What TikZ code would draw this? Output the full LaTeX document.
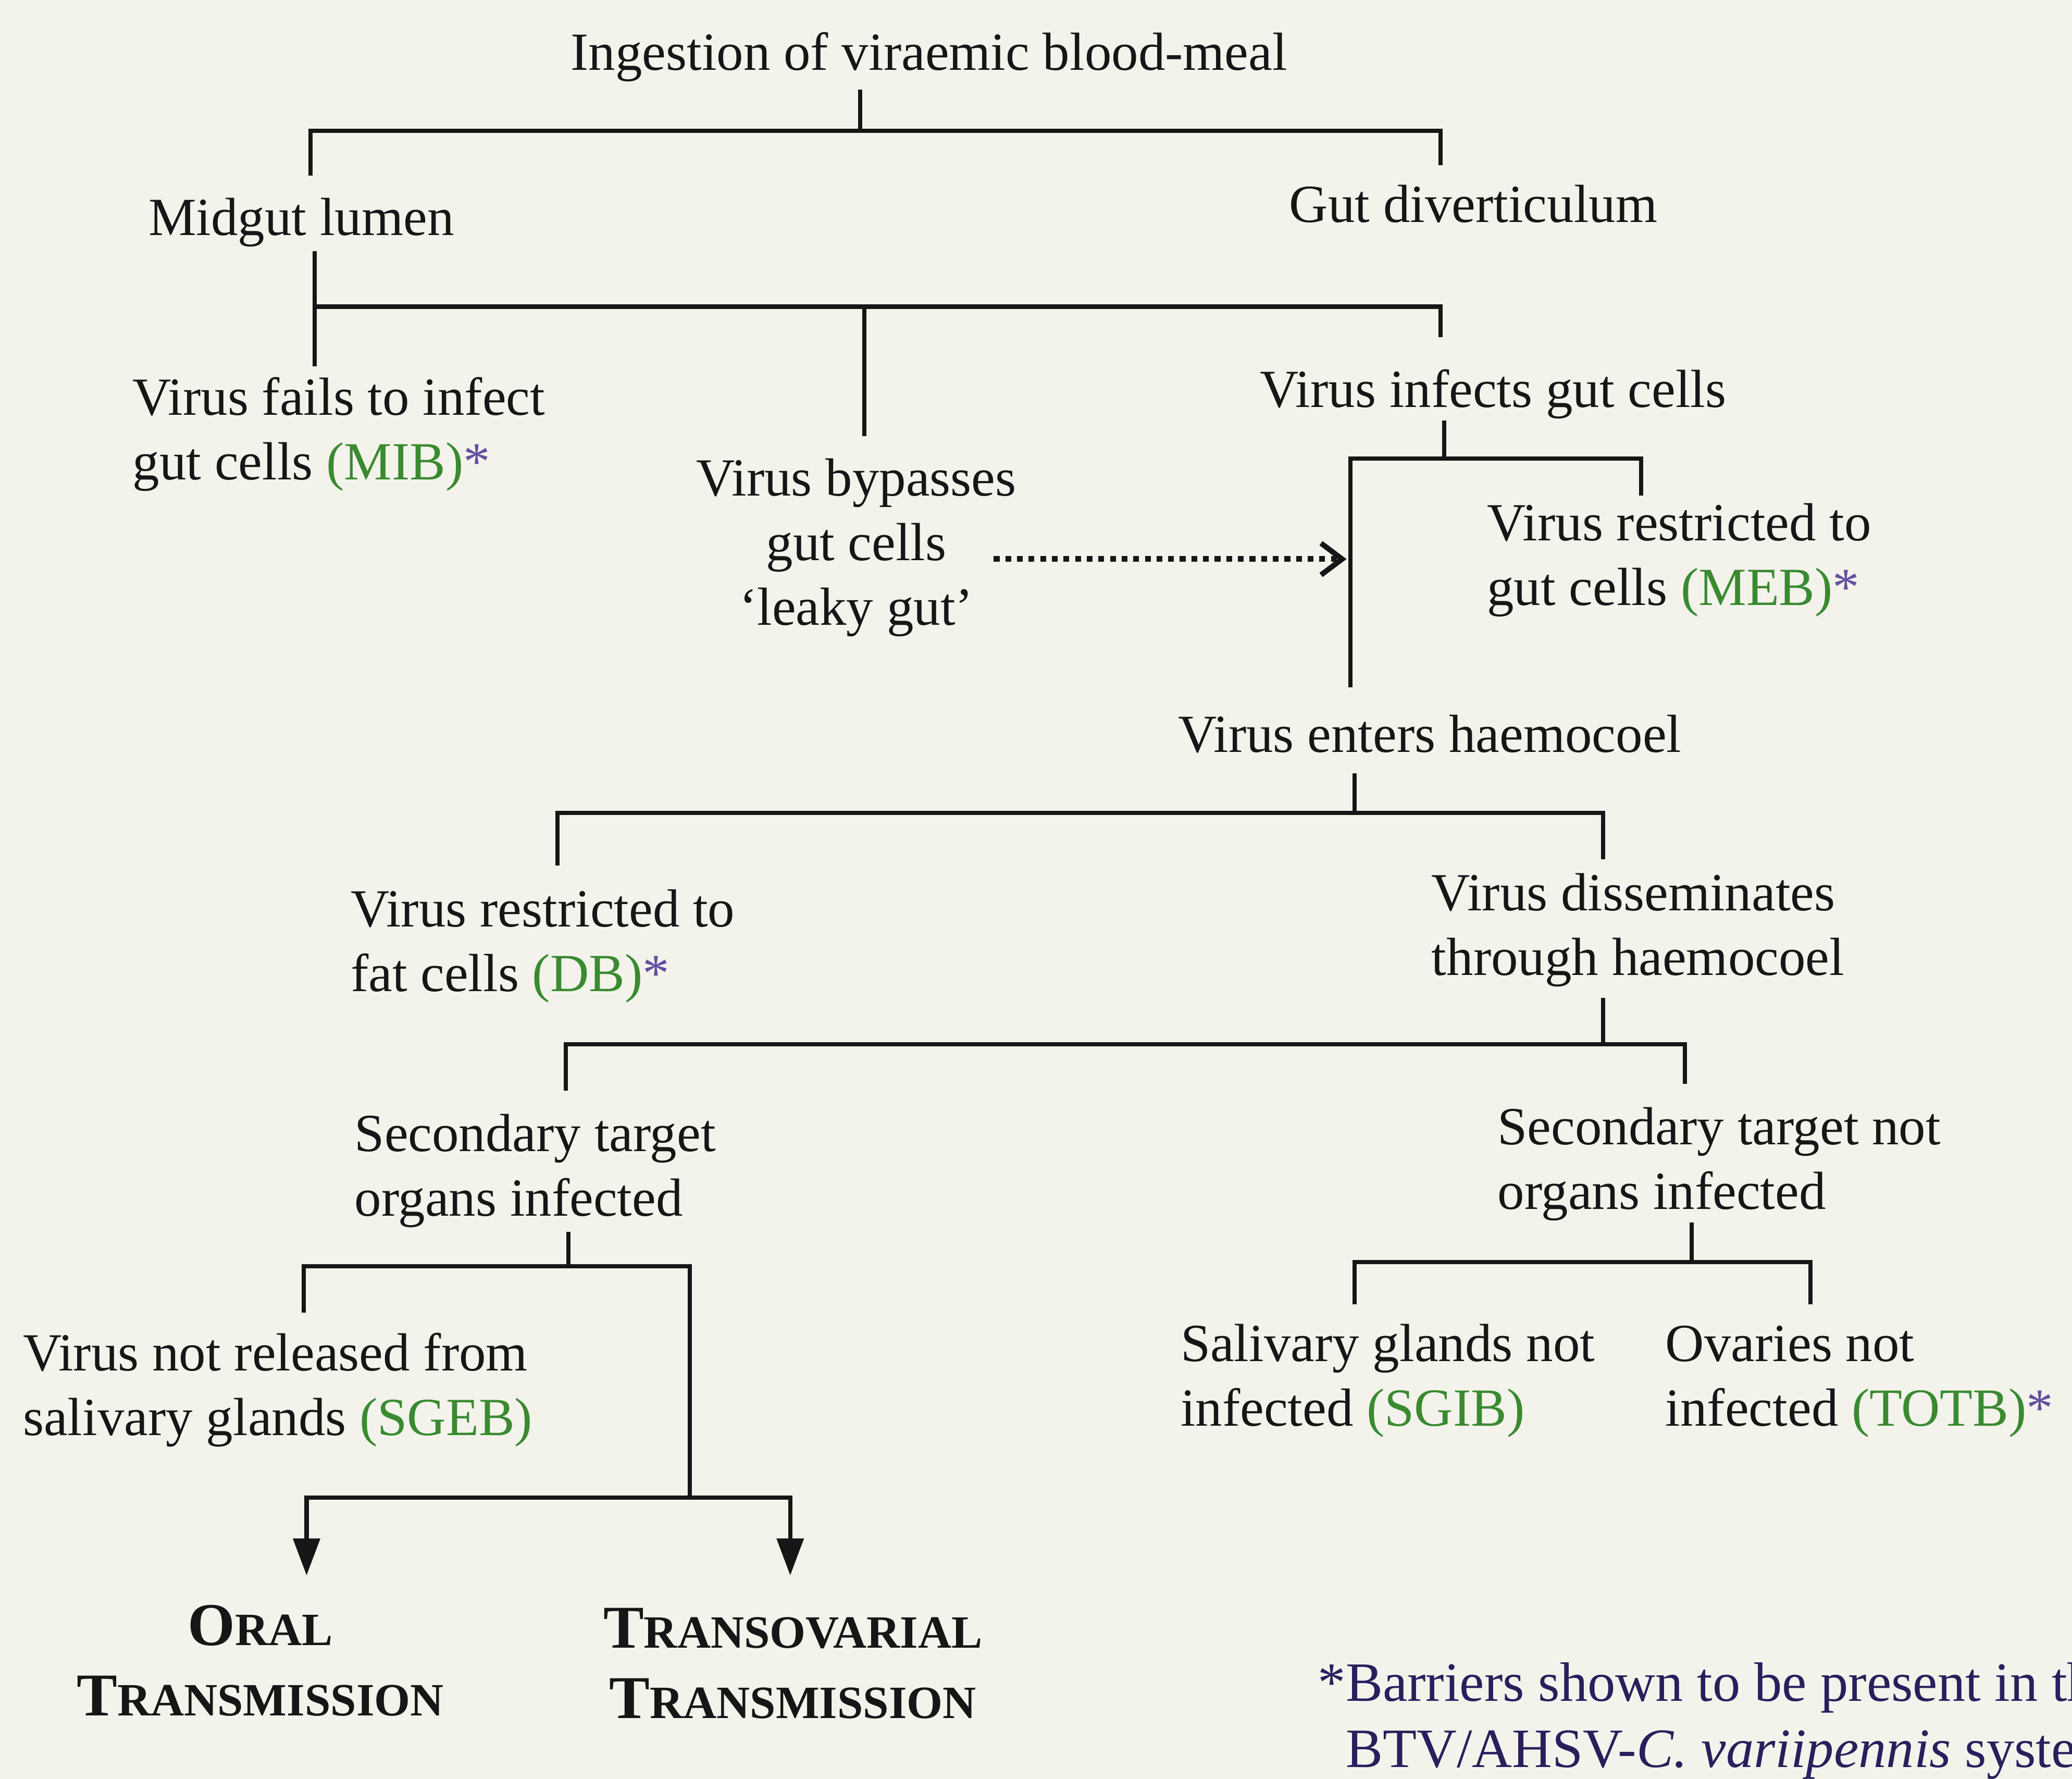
\documentclass[tikz,border=0pt]{standalone}
\usepackage{fontspec}
\setmainfont{Liberation Serif}
\usetikzlibrary{positioning, arrows.meta}

\definecolor{paper}{RGB}{243,243,236}
\definecolor{ink}{RGB}{22,22,22}
\definecolor{barrgreen}{RGB}{58,138,48}
\definecolor{starpurple}{RGB}{100,80,160}
\definecolor{notenavy}{RGB}{40,32,92}

\newcommand{\barrier}[1]{\textcolor{barrgreen}{(#1)}}
\newcommand{\barstar}{\textcolor{starpurple}{*}}
\newcommand{\capsc}[2]{{\fontsize{23}{26.5}\selectfont #1}{\fontsize{17.5}{26.5}\selectfont #2}}

\begin{document}
\begin{tikzpicture}[x=0.5pt, y=-0.5pt, >=Stealth,
    lbl/.style={inner sep=0pt, align=left, anchor=base west, text=ink,
        font=\fontsize{20.3}{24.5}\selectfont},
    clbl/.style={lbl, align=center, anchor=base},
    mode/.style={inner sep=0pt, align=center, anchor=base, text=ink,
        font=\bfseries\fontsize{23}{26.5}\selectfont},
    tree/.style={draw=ink, line width=1.6pt},
    dotarrow/.style={draw=ink, line width=2.2pt, dash pattern=on 2.2pt off 2.2pt,
        -{Straight Barb[length=8pt, width=12pt, line width=2pt]}},
    tip/.style={-{Triangle[length=14pt, width=10pt]}}]
    \useasboundingbox (0,0) rectangle (1568,1346);
    \fill[paper] (0,0) rectangle (1568,1346);
    \clip (0,0) rectangle (1568,1346);

    % Texts (multi-line nodes sit on the baseline of their last line)
    \node[clbl] (ingest) at (703,53) {Ingestion of viraemic blood-meal};
    \node[clbl] (lumen) at (228,178) {Midgut lumen};
    \node[clbl] (divert) at (1115,168) {Gut diverticulum};
    \node[lbl] (fails) at (100,363) {Virus fails to infect\\gut cells \barrier{MIB}\barstar};
    \node[clbl] (bypass) at (648,473) {Virus bypasses\\gut cells\\‘leaky gut’};
    \node[clbl] (infects) at (1130,308) {Virus infects gut cells};
    \node[lbl] (restrgut) at (1125,458) {Virus restricted to\\gut cells \barrier{MEB}\barstar};
    \node[clbl] (enters) at (1082,569) {Virus enters haemocoel};
    \node[lbl] (restrfat) at (265,750) {Virus restricted to\\fat cells \barrier{DB}\barstar};
    \node[lbl] (dissem) at (1083,738) {Virus disseminates\\through haemocoel};
    \node[lbl] (infected) at (268,920) {Secondary target\\organs infected};
    \node[lbl] (notinfected) at (1133,915) {Secondary target not\\organs infected};
    \node[lbl] (notrel) at (17,1086) {Virus not released from\\salivary glands \barrier{SGEB}};
    \node[lbl] (salnot) at (893,1079) {Salivary glands not\\infected \barrier{SGIB}};
    \node[lbl] (ovnot) at (1260,1079) {Ovaries not\\infected \barrier{TOTB}\barstar};
    \node[mode] (oral) at (197,1298) {\capsc{O}{RAL}\\\capsc{T}{RANSMISSION}};
    \node[mode] (transov) at (600,1300) {\capsc{T}{RANSOVARIAL}\\\capsc{T}{RANSMISSION}};
    \node[lbl, text=notenavy, font=\fontsize{21}{25}\selectfont] (note) at (997,1337)
        {*Barriers shown to be present in the\\\hphantom{*}BTV/AHSV-\textit{C.\ variipennis} system};

    % Ingestion -> lumen / diverticulum
    \coordinate (s1) at (651,68);   \coordinate (j1) at (651,99);
    \coordinate (l1) at (235,133);  \coordinate (r1) at (1090,125);
    \draw[tree] (s1) -- (j1);
    \draw[tree] (l1) |- (j1) -| (r1);
    % Midgut lumen -> fails / bypasses / infects
    \coordinate (s2) at (238,190);  \coordinate (j2) at (238,232);
    \coordinate (l2) at (238,277);  \coordinate (m2) at (654,330);
    \coordinate (r2) at (1090,255);
    \draw[tree] (s2) -- (l2);
    \draw[tree] (j2) -| (r2);
    \draw[tree] (m2) -- (m2 |- j2);
    % Infects -> restricted / enters
    \coordinate (s3) at (1093,318); \coordinate (j3) at (1093,347);
    \coordinate (l3) at (1022,520); \coordinate (r3) at (1242,375);
    \draw[tree] (s3) -- (j3);
    \draw[tree] (l3) |- (j3) -| (r3);
    % leaky gut shortcut
    \coordinate (lk1) at (752,423); \coordinate (lk2) at (1019,423);
    \draw[dotarrow] (lk1) -- (lk2);
    % Haemocoel -> fat cells / disseminates
    \coordinate (s4) at (1025,585); \coordinate (j4) at (1025,615);
    \coordinate (l4) at (422,655);  \coordinate (r4) at (1213,650);
    \draw[tree] (s4) -- (j4);
    \draw[tree] (l4) |- (j4) -| (r4);
    % Disseminates -> target organs
    \coordinate (s5) at (1213,755); \coordinate (j5) at (1213,790);
    \coordinate (l5) at (428,825);  \coordinate (r5) at (1275,820);
    \draw[tree] (s5) -- (j5);
    \draw[tree] (l5) |- (j5) -| (r5);
    % Organs infected -> glands / transmission
    \coordinate (s6) at (430,932);  \coordinate (j6) at (430,958);
    \coordinate (l6) at (230,993);  \coordinate (r6) at (522,1133);
    \draw[tree] (s6) -- (j6);
    \draw[tree] (l6) |- (j6) -| (r6);
    \coordinate (a1) at (232,1192); \coordinate (a2) at (598,1192);
    \draw[tree, tip] (r6) -| (a1);
    \draw[tree, tip] (r6) -| (a2);
    % Organs not infected -> glands / ovaries
    \coordinate (s8) at (1280,925); \coordinate (j8) at (1280,955);
    \coordinate (l8) at (1025,987); \coordinate (r8) at (1370,987);
    \draw[tree] (s8) -- (j8);
    \draw[tree] (l8) |- (j8) -| (r8);
\end{tikzpicture}
\end{document}
